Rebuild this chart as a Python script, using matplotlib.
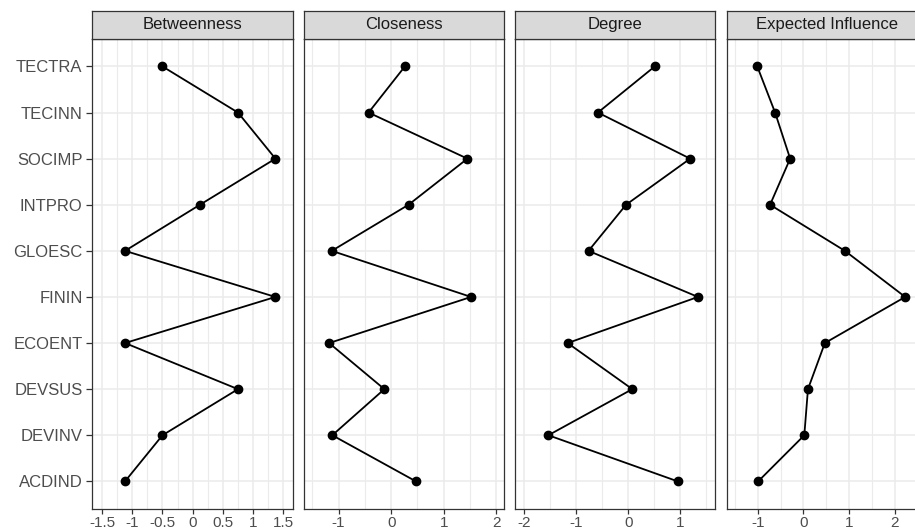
import matplotlib
matplotlib.use("Agg")
import matplotlib.pyplot as plt
import numpy as np

plt.rcParams['font.family'] = ['Liberation Sans', 'DejaVu Sans']

# Nodes listed top to bottom
nodes = ["TECTRA", "TECINN", "SOCIMP", "INTPRO", "GLOESC",
         "FININ", "ECOENT", "DEVSUS", "DEVINV", "ACDIND"]

measures = ["Betweenness", "Closeness", "Degree", "Expected Influence"]

betweenness = [-0.50, 0.75, 1.37, 0.12, -1.12, 1.37, -1.12, 0.75, -0.50, -1.12]
closeness = [0.26, -0.43, 1.45, 0.33, -1.13, 1.52, -1.18, -0.13, -1.12, 0.47]
degree = [0.51, -0.58, 1.19, -0.04, -0.76, 1.34, -1.16, 0.08, -1.53, 0.95]
expected_influence = [-1.01, -0.62, -0.29, -0.73, 0.91, 2.23, 0.47, 0.10, 0.02, -0.99]

series = [betweenness, closeness, degree, expected_influence]

major_ticks = [
    [-1.5, -1, -0.5, 0, 0.5, 1, 1.5],
    [-1, 0, 1, 2],
    [-2, -1, 0, 1],
    [-1, 0, 1, 2],
]
major_labels = [
    ["-1.5", "-1", "-0.5", "0", "0.5", "1", "1.5"],
    ["-1", "0", "1", "2"],
    ["-2", "-1", "0", "1"],
    ["-1", "0", "1", "2"],
]
minor_ticks = [
    [-1.25, -0.75, -0.25, 0.25, 0.75, 1.25],
    [-1.5, -0.5, 0.5, 1.5],
    [-1.5, -0.5, 0.5, 1.5],
    [-1.5, -0.5, 0.5, 1.5, 2.5],
]
xlims = [(-1.662, 1.656), (-1.658, 2.153), (-2.17, 1.674), (-1.68, 2.71)]

W, H = 915, 531
fig = plt.figure(figsize=(W / 100, H / 100), dpi=100)
fig.patch.set_facecolor("white")

panel_left = [92.3, 304.0, 515.0, 726.7]
panel_w = 200.4
top_px, bot_px = 38.8, 509.0
strip_top = 10.8

grey20 = "#333333"
grey30 = "#4D4D4D"
grid_c = "#EBEBEB"

ypos = np.arange(len(nodes), 0, -1)  # top node gets highest position

for i, (name, vals) in enumerate(zip(measures, series)):
    l = panel_left[i] / W
    ax = fig.add_axes([l, 1 - bot_px / H, panel_w / W, (bot_px - top_px) / H])
    ax.set_facecolor("white")
    ax.set_xlim(*xlims[i])
    ax.set_ylim(0.4, len(nodes) + 0.6)
    ax.set_xticks(major_ticks[i])
    ax.set_xticklabels(major_labels[i])
    ax.set_xticks(minor_ticks[i], minor=True)
    ax.set_yticks(ypos)
    if i == 0:
        ax.set_yticklabels(nodes)
    else:
        ax.set_yticklabels([])
    ax.grid(True, which='major', color=grid_c, linewidth=1.1, zorder=0)
    ax.grid(True, which='minor', axis='x', color=grid_c, linewidth=0.8, zorder=0)
    ax.set_axisbelow(True)
    ax.tick_params(axis='y', which='major', length=4, width=0.9, color=grey20,
                   labelcolor=grey30, labelsize=12, pad=3)
    ax.tick_params(axis='x', which='major', length=3.5, width=0.9, color=grey20,
                   labelcolor=grey30, labelsize=11, pad=1.5)
    ax.tick_params(axis='both', which='minor', length=0)
    if i != 0:
        ax.tick_params(axis='y', length=0)
    for sp in ax.spines.values():
        sp.set_color(grey20)
        sp.set_linewidth(0.9)
    ax.plot(vals, ypos, color="black", linewidth=1.3, zorder=3)
    ax.plot(vals, ypos, 'o', color="black", markersize=6, zorder=4)

    sax = fig.add_axes([l, 1 - top_px / H, panel_w / W, (top_px - strip_top) / H])
    sax.set_facecolor("#D9D9D9")
    sax.set_xticks([])
    sax.set_yticks([])
    for sp in sax.spines.values():
        sp.set_color(grey20)
        sp.set_linewidth(0.9)
    sax.text(0.5, 0.5, name, ha='center', va='center', fontsize=12,
             color="#1A1A1A", transform=sax.transAxes)

fig.savefig("out.png", dpi=100)
